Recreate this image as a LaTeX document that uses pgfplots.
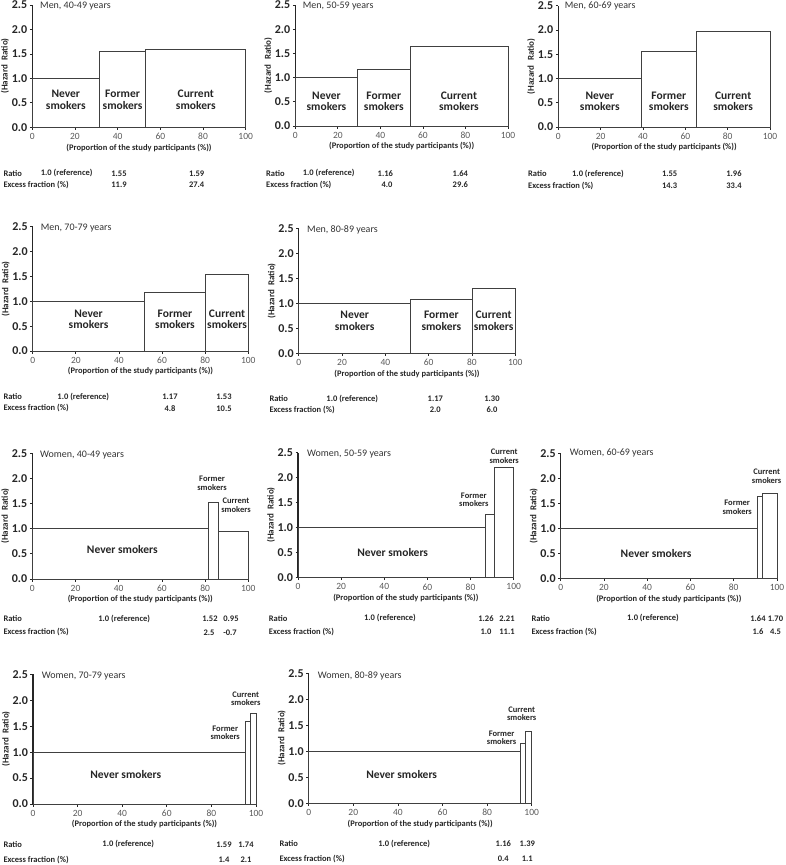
\documentclass[border=0pt]{standalone}
\usepackage{fontspec}
\setmainfont{Carlito}
\usepackage{pgfplots}
\pgfplotsset{compat=1.18}

\newcommand\fsz[1]{\fontsize{#1}{#1}\selectfont}

\pgfplotsset{
  panel/.style={
    scale only axis, anchor=south west, clip=false,
    axis lines*=left,
    xmin=0, xmax=100, ymin=0, ymax=2.5,
    xtick={0,20,40,60,80,100},
    ytick={0,0.5,1,1.5,2,2.5},
    tick align=outside, major tick length=2.5pt,
    axis line style={line width=1.2pt, black!85},
    every tick/.style={line width=0.8pt, black!85},
    /pgf/number format/assume math mode=true,
    yticklabel style={font=\bfseries\fsz{12}, text=black!85, xshift=1pt,
      /pgf/number format/fixed, /pgf/number format/fixed zerofill,
      /pgf/number format/precision=1},
    xticklabel style={font=\fsz{9.5}, text=black!65},
    xlabel={(Proportion of the study participants (\%))},
    xlabel style={font=\bfseries\fsz{8.5}, text=black!85, yshift=3pt},
  },
  bars/.style={ybar interval, draw=black!75, line width=0.9pt, fill=white},
}
\tikzset{
  big/.style={font=\bfseries\fsz{11.5}, text=black!85, align=center, inner sep=0pt},
  small/.style={font=\bfseries\fsz{8.5}, text=black!85, align=center, inner sep=0pt},
  ttl/.style={font=\fsz{10}, text=black!80, anchor=west, inner sep=0pt},
  ylab/.style={font=\bfseries\fsz{9}, text=black!85, rotate=90, inner sep=0pt},
  row/.style={font=\bfseries\fsz{8.5}, text=black!85, inner sep=0pt},
}

\begin{document}
\begin{tikzpicture}
\useasboundingbox (0pt,0pt) rectangle (785pt,-865pt);

% ---------- Men, 40-49
\begin{axis}[panel, at={(32.3pt,-127.3pt)}, width=213.4pt, height=122.3pt]
\addplot[bars] coordinates {(0,1.0) (31.4,1.55) (53.2,1.59) (100,1.59)};
\node[big] at (axis cs:15.7,0.56) {Never\\smokers};
\node[big] at (axis cs:42.3,0.56) {Former\\smokers};
\node[big] at (axis cs:76.6,0.56) {Current\\smokers};
\end{axis}
% ---------- Men, 50-59
\begin{axis}[panel, at={(295.3pt,-126pt)}, width=212.7pt, height=121pt]
\addplot[bars] coordinates {(0,1.0) (29.3,1.16) (53.9,1.64) (100,1.64)};
\node[big] at (axis cs:14.65,0.51) {Never\\smokers};
\node[big] at (axis cs:41.6,0.51) {Former\\smokers};
\node[big] at (axis cs:76.95,0.51) {Current\\smokers};
\end{axis}
% ---------- Men, 60-69
\begin{axis}[panel, at={(558.3pt,-127pt)}, width=211.7pt, height=121.3pt]
\addplot[bars] coordinates {(0,1.0) (39.2,1.55) (65.2,1.96) (100,1.96)};
\node[big] at (axis cs:19.6,0.53) {Never\\smokers};
\node[big] at (axis cs:52.2,0.53) {Former\\smokers};
\node[big] at (axis cs:82.6,0.53) {Current\\smokers};
\end{axis}
% ---------- Men, 70-79
\begin{axis}[panel, at={(32.7pt,-351pt)}, width=215.6pt, height=124.3pt]
\addplot[bars] coordinates {(0,1.0) (51.8,1.17) (80.3,1.53) (100,1.53)};
\node[big] at (axis cs:25.9,0.64) {Never\\smokers};
\node[big] at (axis cs:66,0.64) {Former\\smokers};
\node[big] at (axis cs:90.15,0.64) {Current\\smokers};
\end{axis}
% ---------- Men, 80-89
\begin{axis}[panel, at={(298.7pt,-353.3pt)}, width=216.6pt, height=125pt]
\addplot[bars] coordinates {(0,1.0) (51.7,1.07) (80,1.30) (100,1.30)};
\node[big] at (axis cs:25.85,0.65) {Never\\smokers};
\node[big] at (axis cs:65.85,0.65) {Former\\smokers};
\node[big] at (axis cs:90,0.65) {Current\\smokers};
\end{axis}
% ---------- Women, 40-49
\begin{axis}[panel, at={(32.3pt,-579pt)}, width=216pt, height=125.7pt]
\addplot[bars] coordinates {(0,1.0) (81.5,1.52) (86.1,0.95) (100,0.95)};
\node[big] at (axis cs:41.7,0.58) {Never smokers};
\node[small] at (axis cs:83.2,1.90) {Former\\smokers};
\node[small] at (axis cs:94.3,1.47) {Current\\smokers};
\end{axis}
% ---------- Women, 50-59
\begin{axis}[panel, at={(298pt,-577.7pt)}, width=215.7pt, height=125pt]
\addplot[bars] coordinates {(0,1.0) (86.9,1.26) (91,2.21) (100,2.21)};
\node[big] at (axis cs:43.9,0.5) {Never smokers};
\node[small] at (axis cs:81.5,1.56) {Former\\smokers};
\node[small] at (axis cs:95.6,2.43) {Current\\smokers};
\end{axis}
% ---------- Women, 60-69
\begin{axis}[panel, at={(560.7pt,-578.3pt)}, width=216.3pt, height=125pt]
\addplot[bars] coordinates {(0,1.0) (91,1.64) (93.5,1.70) (100,1.70)};
\node[big] at (axis cs:44.1,0.5) {Never smokers};
\node[small] at (axis cs:81.6,1.42) {Former\\smokers};
\node[small] at (axis cs:95.2,2.04) {Current\\smokers};
\end{axis}
% ---------- Women, 70-79
\begin{axis}[panel, at={(33pt,-804pt)}, width=223pt, height=129.7pt]
\addplot[bars] coordinates {(0,1.0) (95.2,1.59) (97.4,1.74) (100,1.74)};
\node[big] at (axis cs:41.6,0.56) {Never smokers};
\node[small] at (axis cs:86.2,1.37) {Former\\smokers};
\node[small] at (axis cs:95.4,2.03) {Current\\smokers};
\end{axis}
% ---------- Women, 80-89
\begin{axis}[panel, at={(308.7pt,-803.3pt)}, width=223pt, height=130pt]
\addplot[bars] coordinates {(0,1.0) (94.8,1.16) (97.3,1.39) (100,1.39)};
\node[big] at (axis cs:41.7,0.56) {Never smokers};
\node[small] at (axis cs:86.5,1.26) {Former\\smokers};
\node[small] at (axis cs:95.5,1.72) {Current\\smokers};
\end{axis}

% titles
\foreach \x/\y/\t in {40/6/{Men, 40-49 years}, 302.7/6/{Men, 50-59 years},
  564.7/6.3/{Men, 60-69 years}, 40.7/227.7/{Men, 70-79 years},
  307/230/{Men, 80-89 years}, 40/455/{Women, 40-49 years},
  307/454.3/{Women, 50-59 years}, 569.7/453.3/{Women, 60-69 years},
  41.7/675.7/{Women, 70-79 years}, 317.7/675.7/{Women, 80-89 years}}
  \node[ttl] at ({\x pt},{-\y pt}) {\t};

% y labels
\foreach \x/\y in {5/66, 268.3/65.5, 531.3/66.3, 5.7/289, 271.7/291,
                   5.3/516, 271/515, 533.7/516, 6/739, 281.7/738}
  \node[ylab] at ({\x pt},{-\y pt}) {(Hazard\enspace Ratio)};

% rows under each panel
\foreach \x/\ya/\yb in {3.3/173.3/185, 266/173.3/185, 528/174/185.7,
                        3.3/396.7/408.3, 269.3/399/410,
                        3.3/619/632.3, 268.7/618.3/631.7, 531.3/618.3/631.7,
                        3.3/844.3/860, 279.3/844/859}{
  \node[row, anchor=west] at ({\x pt},{-\ya pt}) {Ratio};
  \node[row, anchor=west] at ({\x pt},{-\yb pt}) {Excess fraction (\%)};
}
\foreach \x/\y in {66.7/173.3, 328.7/173.3, 598/174, 83.3/396.7, 352.3/399,
                   124.2/619, 390/618.3, 653/618.3, 128.3/844.3, 404.2/844}
  \node[row] at ({\x pt},{-\y pt}) {1.0 (reference)};

\foreach \x/\y/\t in {
  119/173.3/1.55, 196.7/173.3/1.59, 119/185/11.9, 196.7/185/27.4,
  385.3/173.3/1.16, 460.3/173.3/1.64, 387/185/4.0, 460.3/185/29.6,
  669.7/174/1.55, 734/174/1.96, 669.7/185.7/14.3, 734/185.7/33.4,
  170/396.7/1.17, 224/396.7/1.53, 170/408.3/4.8, 224/408.3/10.5,
  435.3/399/1.17, 492/399/1.30, 435.3/410/2.0, 492/410/6.0,
  210/619/1.52, 231/619/0.95, 209/632.3/2.5, 230/632.3/-0.7,
  486/618.3/1.26, 507/618.3/2.21, 486/631.7/1.0, 507/631.7/11.1,
  758/618.3/1.64, 775.5/618.3/1.70, 758/631.7/1.6, 775.5/631.7/4.5,
  224/844.3/1.59, 246/844.3/1.74, 224/860/1.4, 246/860/2.1,
  503.3/844/1.16, 527.3/844/1.39, 503.3/859/0.4, 527.3/859/1.1}
  \node[row] at ({\x pt},{-\y pt}) {\t};
\end{tikzpicture}
\end{document}
